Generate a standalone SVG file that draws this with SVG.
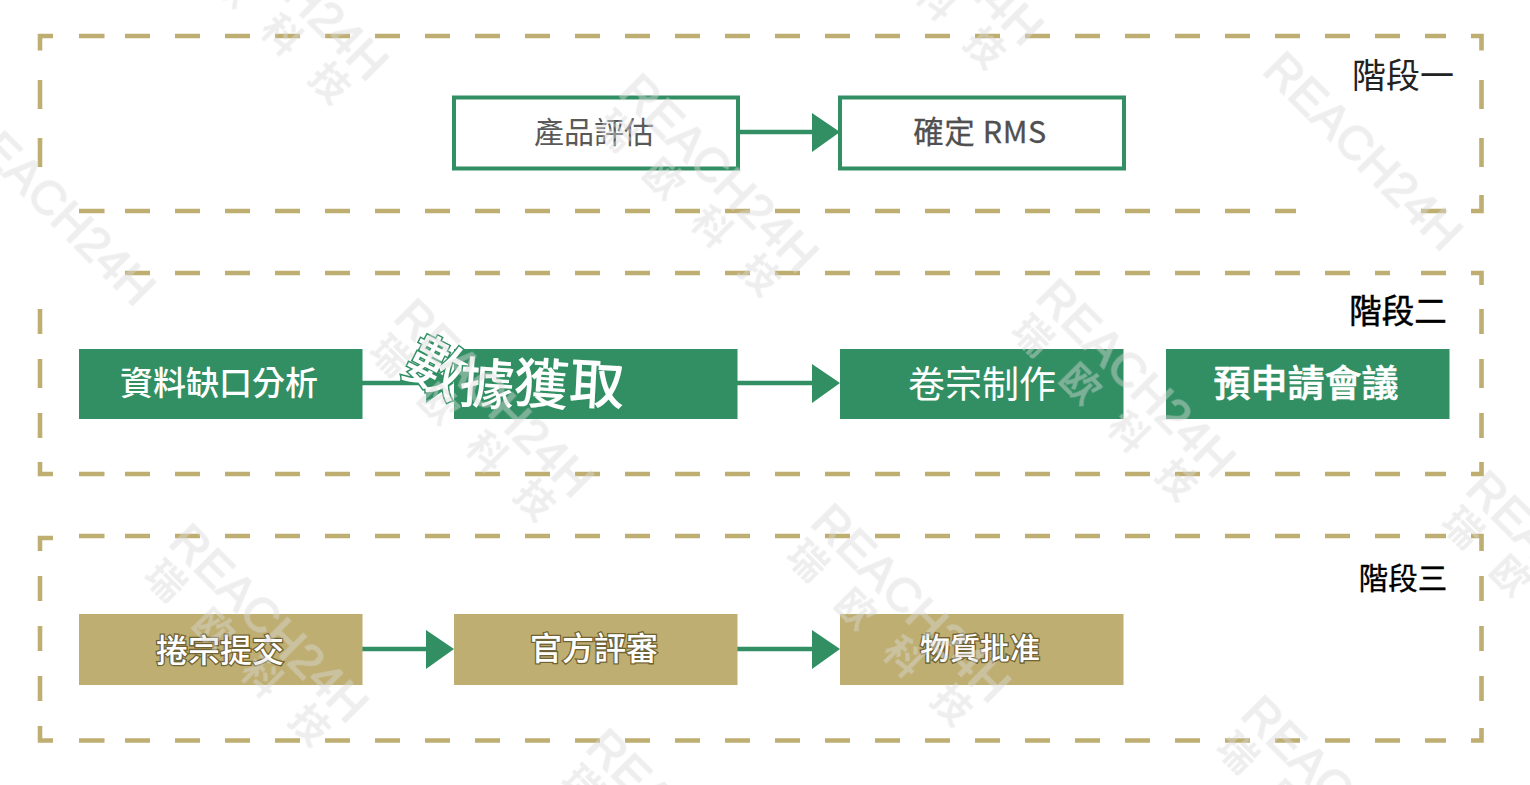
<svg xmlns="http://www.w3.org/2000/svg" width="1530" height="785" viewBox="0 0 1530 785">
<style>
text{font-family:"Noto Sans CJK TC","Noto Sans",sans-serif;text-anchor:middle}
.dash{fill:none;stroke:#BFAE71;stroke-width:4.6}
.h{stroke-dasharray:25 25}
.out{fill:#fff;stroke:#318F63;stroke-width:4}
.grn{fill:#318F63}
.gld{fill:#BFAE71}
.lnk{stroke:#318F63;stroke-width:4.5;fill:none}
.tri{fill:#318F63}
.lt{fill:#fff}
.gl{fill:#fff;stroke:#6F6233;stroke-width:2.6;paint-order:stroke;font-weight:500}
.wm{fill:#DADADA;opacity:.45}
.wa{font-family:"Liberation Sans",sans-serif;font-size:48px;text-anchor:start;stroke:#DADADA;stroke-width:1.5}
.wc{font-family:"Noto Sans CJK SC",sans-serif;font-weight:700;font-size:38px;letter-spacing:30px;text-anchor:start}
</style>
<rect width="1530" height="785" fill="#fff"/>
<g id="frames">
<path class="dash h" d="M125 36H1446M125 211H1296M1421 211H1446M125 273H1390M1421 273H1446M125 474H1446M125 536H1446M125 740.500H1446"/>
<path class="dash" d="M79 36H104.500M79 211H104.500M79 474H104.500M79 536H104.500M79 740.500H104.500"/>
<path class="dash" d="M53 36H40V50.500M40 80V109M40 138V167M1471 36H1481.500V50.500M1481.500 80V109M1481.500 138V167M1481.500 195V211H1471"/>
<path class="dash" d="M40 309V334M40 359V388M40 413V438M40 462V474H53M1471 273H1481.500V285M1481.500 309V334M1481.500 359V388M1481.500 413V438M1481.500 462V474H1471"/>
<path class="dash" d="M53 538H40V551M40 576V601M40 626V651M40 676V701M40 726V740.500H53M1471 536H1481.500V551M1481.500 576V601M1481.500 626V651M1481.500 676V701M1481.500 728V740.500H1471"/>
</g>
<g id="connectors">
<path class="lnk" d="M739 132H814M362 383H428M737 383H814M362 649H428M737 649H814"/>
<path class="tri" d="M812 113L840 132L812 152ZM426 364L454 383L426 403ZM812 364L840 383L812 403ZM426 630L454 649L426 669ZM812 630L840 649L812 669Z"/>
</g>
<g id="stage1-label"><text x="1403" y="88" font-size="34" fill="#222">階段一</text></g>
<g id="stage2-label"><text x="1398" y="323" font-size="32.500" fill="#000" stroke="#000" stroke-width=".5">階段二</text></g>
<g id="stage3-label"><text x="1403" y="589" font-size="29.500" fill="#000" stroke="#000" stroke-width=".3">階段三</text></g>
<g id="n1"><rect class="out" x="454" y="97.500" width="284" height="71"/><text x="594" y="143" font-size="30" fill="#595959">產品評估</text></g>
<g id="n2"><rect class="out" x="840" y="97.500" width="284" height="71"/><text x="980" y="143" font-size="30.500" fill="#505050" letter-spacing=".6" stroke="#505050" stroke-width=".3">確定 RMS</text></g>
<g id="n3"><rect class="grn" x="79" y="349" width="283.500" height="70"/><text class="lt" x="219" y="395" font-size="33" font-weight="500">資料缺口分析</text></g>
<g id="n4"><rect class="grn" x="454" y="349" width="283.500" height="70"/>
<g font-size="55" font-weight="500" fill="#fff" stroke="#318F63" stroke-width="3" paint-order="stroke">
<text transform="translate(427 387) rotate(27)" font-size="60">數</text>
<text transform="translate(486 404) rotate(4)">據</text>
<text transform="translate(540 404) rotate(4)">獲</text>
<text transform="translate(596 404) rotate(3)">取</text>
</g></g>
<g id="n5"><rect class="grn" x="840" y="349" width="283.500" height="70"/><text class="lt" x="982" y="398" font-size="37">卷宗制作</text></g>
<g id="n6"><rect class="grn" x="1166" y="349" width="283.500" height="70"/><text class="lt" x="1306" y="397" font-size="37" font-weight="500" stroke="#fff" stroke-width=".6">預申請會議</text></g>
<g id="n7"><rect class="gld" x="79" y="614" width="283.500" height="71"/><text class="gl" x="220" y="662" font-size="32">捲宗提交</text></g>
<g id="n8"><rect class="gld" x="454" y="614" width="283.500" height="71"/><text class="gl" x="594" y="660" font-size="32">官方評審</text></g>
<g id="n9"><rect class="gld" x="840" y="614" width="283.500" height="71"/><text class="gl" x="980" y="659" font-size="30">物質批准</text></g>
<g id="watermark" class="wm">
<g transform="translate(1261 72) rotate(45)"><text class="wa">REACH24H</text></g>
<g transform="translate(617 94) rotate(45)"><text class="wa">REACH24H</text><text class="wc" x="6" y="40">瑞欧科技</text></g>
<g transform="translate(392 319) rotate(45)"><text class="wa">REACH24H</text><text class="wc" x="6" y="40">瑞欧科技</text></g>
<g transform="translate(1034 299) rotate(45)"><text class="wa">REACH24H</text><text class="wc" x="6" y="40">瑞欧科技</text></g>
<g transform="translate(809 524) rotate(45)"><text class="wa">REACH24H</text><text class="wc" x="6" y="40">瑞欧科技</text></g>
<g transform="translate(167 544) rotate(45)"><text class="wa">REACH24H</text><text class="wc" x="6" y="40">瑞欧科技</text></g>
<g transform="translate(1239 716) rotate(45)"><text class="wa">REACH24H</text><text class="wc" x="6" y="40">瑞欧科技</text></g>
<g transform="translate(584 749) rotate(45)"><text class="wa">REACH24H</text><text class="wc" x="6" y="40">瑞欧科技</text></g>
<g transform="translate(187 -98) rotate(45)"><text class="wa">REACH24H</text><text class="wc" x="6" y="40">瑞欧科技</text></g>
<g transform="translate(842 -133) rotate(45)"><text class="wa">REACH24H</text><text class="wc" x="6" y="40">瑞欧科技</text></g>
<g transform="translate(-46 127) rotate(45)"><text class="wa">REACH24H</text></g>
<g transform="translate(1464 491) rotate(45)"><text class="wa">REACH24H</text><text class="wc" x="6" y="40">瑞欧科技</text></g>
</g>
</svg>
